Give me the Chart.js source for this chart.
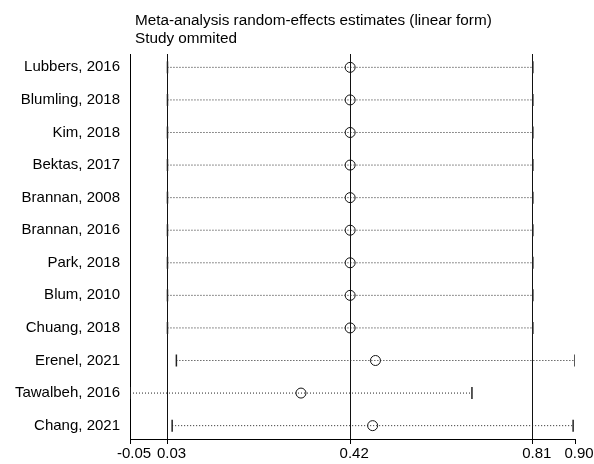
<!DOCTYPE html>
<html>
<head>
<meta charset="utf-8">
<script src="https://cdn.jsdelivr.net/npm/chart.js@4/dist/chart.umd.min.js"></script>
<style>
  html, body { margin: 0; padding: 0; background: #fff; }
  #wrap { width: 594px; height: 464px; }
</style>
</head>
<body>
<div id="wrap"><canvas id="chart"></canvas></div>
<script>
// study omitted in each row
const studies = [
    'Lubbers, 2016', 'Blumling, 2018', 'Kim, 2018', 'Bektas, 2017',
    'Brannan, 2008', 'Brannan, 2016', 'Park, 2018', 'Blum, 2010',
    'Chuang, 2018', 'Erenel, 2021', 'Tawalbeh, 2016', 'Chang, 2021'
];
const estimates = [0.42, 0.42, 0.42, 0.42, 0.42, 0.42, 0.42, 0.42, 0.42, 0.474, 0.315, 0.468];
const lowerCI   = [0.03, 0.03, 0.03, 0.03, 0.03, 0.03, 0.03, 0.03, 0.03, 0.049, -0.05, 0.04];
const upperCI   = [0.81, 0.81, 0.81, 0.81, 0.81, 0.81, 0.81, 0.81, 0.81, 0.90, 0.68, 0.896];
const xTicks = [-0.05, 0.03, 0.42, 0.81, 0.90];
const refLines = [0.03, 0.42, 0.81];
const titleLines = ['Meta-analysis random-effects estimates (linear form)', 'Study ommited'];

const FONT = '"Liberation Sans", Arial, sans-serif';

// one dotted line with end caps per study
const ciSets = studies.map((name, i) => ({
    type: 'line',
    data: [{ x: lowerCI[i], y: i }, { x: upperCI[i], y: i }],
    borderColor: '#222',
    borderWidth: 1,
    borderDash: [1, 2],
    pointStyle: 'line',
    rotation: 90,
    pointRadius: 6,
    pointBorderWidth: 1.5,
    pointBorderColor: '#222',
    pointBackgroundColor: '#222',
    order: 2
}));

const estSet = {
    type: 'scatter',
    data: estimates.map((v, i) => ({ x: v, y: i })),
    pointStyle: 'circle',
    pointRadius: 5,
    pointBorderWidth: 1,
    pointBorderColor: '#111',
    pointBackgroundColor: 'rgba(0,0,0,0)',
    order: 1
};

const titlePlugin = {
    id: 'titleText',
    afterDraw(chart) {
        const ctx = chart.ctx;
        ctx.save();
        ctx.fillStyle = '#000';
        ctx.font = '15.3px ' + FONT;
        ctx.textBaseline = 'alphabetic';
        ctx.fillText(titleLines[0], 135, 25);
        ctx.fillText(titleLines[1], 135, 42.5);
        ctx.restore();
    }
};

new Chart(document.getElementById('chart'), {
    data: { datasets: [...ciSets, estSet] },
    plugins: [titlePlugin],
    options: {
        responsive: true,
        maintainAspectRatio: false,
        animation: false,
        layout: { padding: { top: 54, right: 19, left: 0, bottom: 0 } },
        plugins: {
            legend: { display: false },
            tooltip: { enabled: false }
        },
        scales: {
            x: {
                type: 'linear',
                min: -0.05,
                max: 0.90,
                afterBuildTicks: (scale) => { scale.ticks = xTicks.map(v => ({ value: v })); },
                afterFit: (scale) => { scale.height = 25; },
                ticks: {
                    autoSkip: false,
                    maxRotation: 0,
                    padding: 1,
                    labelOffset: 4,
                    color: '#000',
                    font: { family: FONT, size: 15 },
                    callback: (v) => v.toFixed(2)
                },
                grid: {
                    drawOnChartArea: true,
                    tickLength: 5,
                    tickColor: '#000',
                    color: (c) => (c.tick && refLines.includes(c.tick.value)) ? '#111' : 'rgba(0,0,0,0)',
                    lineWidth: 1
                },
                border: { display: true, color: '#000', width: 1 }
            },
            y: {
                type: 'linear',
                reverse: true,
                min: -0.41,
                max: 11.41,
                afterBuildTicks: (scale) => { scale.ticks = studies.map((s, i) => ({ value: i })); },
                afterFit: (scale) => { scale.width = 130; },
                ticks: {
                    autoSkip: false,
                    padding: 10,
                    color: '#000',
                    font: { family: FONT, size: 15 },
                    callback: (v) => studies[v]
                },
                grid: { display: false, drawTicks: false },
                border: { display: true, color: '#000', width: 1 }
            }
        }
    }
});
</script>
</body>
</html>
